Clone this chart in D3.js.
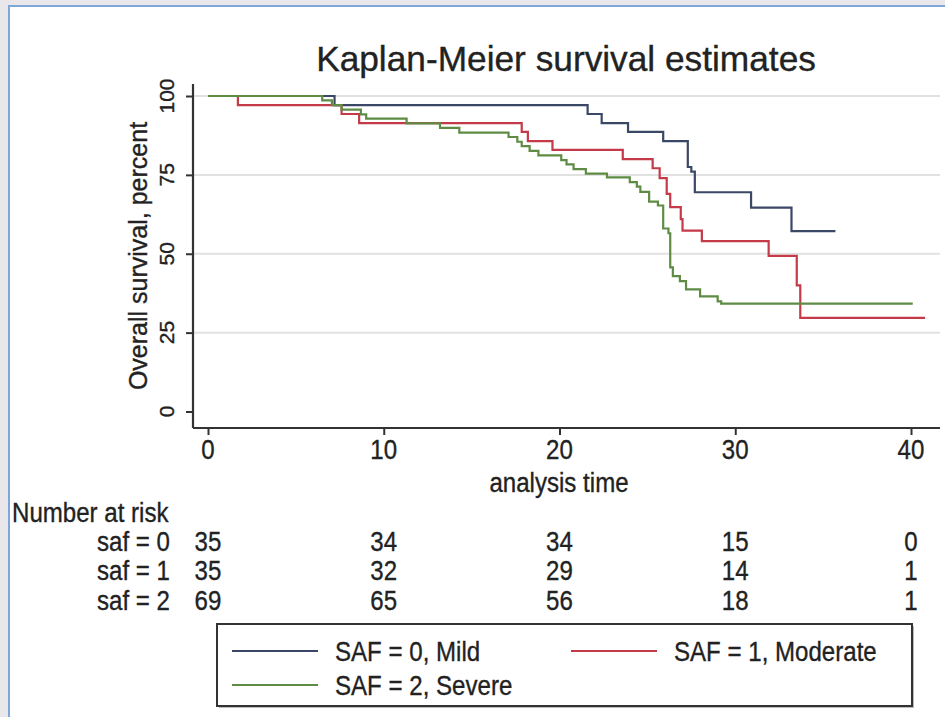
<!DOCTYPE html>
<html lang="en">
<head>
<meta charset="UTF-8">
<title>Kaplan-Meier survival estimates</title>
<style>
    body { margin: 0; background: #e9e7ea; }
    svg text { font-family: "Liberation Sans", Arial, sans-serif; fill: #222; stroke: #222; stroke-width: 0.35px; }
    .grid line { stroke: #e1e1e1; stroke-width: 2px; }
    .km { fill: none; stroke-width: 2.2px; }
</style>
</head>
<body>
<script src="https://d3js.org/d3.v7.min.js"></script>
<script>
// ---- data ----
const timeTicks = [0, 10, 20, 30, 40];
const survTicks = [0, 25, 50, 75, 100];
const legendNames = ["SAF = 0, Mild", "SAF = 1, Moderate", "SAF = 2, Severe"];
const riskNames = ["saf = 0", "saf = 1", "saf = 2"];
const riskMild = [35, 34, 34, 15, 0];
const riskModerate = [35, 32, 29, 14, 1];
const riskSevere = [69, 65, 56, 18, 1];

// [time, survival %] at each drop
const mildSteps = [[0, 100], [7.2, 97.1], [21.6, 94.3], [22.4, 91.4], [23.9, 88.6], [25.9, 85.7],
    [27.3, 77.5], [27.5, 76], [27.7, 69.5], [30.9, 64.6], [33.2, 57.2]];
const mildEnd = 35.7;
const moderateSteps = [[0, 100], [1.7, 97.1], [7.6, 94.3], [8.6, 91.4], [17.85, 88.6], [18.2, 85.7],
    [19.6, 82.9], [23.6, 80], [25.3, 77.1], [25.7, 74], [26.1, 69], [26.3, 64.8], [26.9, 61],
    [27.0, 57.3], [28.1, 54], [31.9, 49.3], [33.5, 40], [33.7, 29.7]];
const moderateEnd = 40.8;
const severeSteps = [[0, 100], [6.5, 98.6], [7.05, 97.1], [7.6, 95.7], [8.7, 94.2], [9.0, 92.8],
    [11.3, 91.3], [13.2, 89.9], [14.3, 88.4], [17.1, 87], [17.6, 85.5], [17.85, 84.1], [18.3, 82.6],
    [18.8, 81.2], [20.1, 79.7], [20.4, 78.3], [20.8, 76.8], [21.5, 75.4], [22.7, 74.2], [24.0, 72.7],
    [24.4, 71.3], [24.6, 69.6], [25.1, 66.5], [25.6, 65.3], [25.9, 58], [26.2, 56.5], [26.3, 45.7],
    [26.45, 42.9], [26.85, 41.3], [27.2, 38.7], [28.0, 36.5], [29.0, 34.9], [29.2, 34.2]];
const severeEnd = 40.1;

const colors = ["#3b4767", "#c43a48", "#5e8c45"];

const W = 945, H = 717;
const svg = d3.select("body").append("svg")
    .attr("width", W).attr("height", H);

// outer frame
svg.append("rect").attr("x", 9).attr("y", 6).attr("width", 1000).attr("height", 800)
    .attr("fill", "#fff").attr("stroke", "#7ea6d6").attr("stroke-width", 2);

const x = d3.scaleLinear().domain([0, 40]).range([208, 911]);
const y = d3.scaleLinear().domain([0, 100]).range([411.5, 96]);
const plotLeft = 193, plotRight = 940, plotBottom = 428, plotTop = 84;

// narrow text, like the squeezed Stata output
function label(g, px, py, s, size, anchor, sx) {
    return g.append("text")
        .attr("transform", `translate(${px},${py}) scale(${sx},1)`)
        .attr("text-anchor", anchor)
        .style("font-size", size + "px")
        .text(s);
}

// gridlines
svg.append("g").attr("class", "grid")
    .selectAll("line").data(survTicks.filter(d => d > 0)).enter().append("line")
    .attr("x1", plotLeft).attr("x2", plotRight)
    .attr("y1", d => y(d)).attr("y2", d => y(d));

// axes
const xAxis = svg.append("g").attr("transform", `translate(0,${plotBottom})`)
    .call(d3.axisBottom(x).tickValues(timeTicks).tickSize(7).tickFormat(""));
xAxis.select(".domain").attr("d", `M${plotLeft},0H${plotRight}`);
const yAxis = svg.append("g").attr("transform", `translate(${plotLeft},0)`)
    .call(d3.axisLeft(y).tickValues(survTicks).tickSize(7).tickFormat(""));
yAxis.select(".domain").attr("d", `M0,${plotTop}V${plotBottom}`);
svg.selectAll(".domain").attr("stroke", "#333").attr("stroke-width", 2.2);
svg.selectAll(".tick line").attr("stroke", "#333").attr("stroke-width", 2);

// tick labels
timeTicks.forEach(t => label(svg, x(t), 459, t, 28, "middle", 0.86));
survTicks.forEach(v => svg.append("text")
    .attr("transform", `translate(174,${y(v)}) rotate(-90)`)
    .attr("text-anchor", "middle").style("font-size", "21px").text(v));

// titles
label(svg, 566, 71, "Kaplan-Meier survival estimates", 36, "middle", 0.98);
label(svg, 559, 492, "analysis time", 28, "middle", 0.86);
svg.append("text")
    .attr("transform", "translate(147,256) rotate(-90)")
    .attr("text-anchor", "middle").style("font-size", "25px")
    .text("Overall survival, percent");

// survival curves
const line = d3.line().x(d => x(d[0])).y(d => y(d[1])).curve(d3.curveStepAfter);
const curves = [
    mildSteps.concat([[mildEnd, mildSteps[mildSteps.length - 1][1]]]),
    moderateSteps.concat([[moderateEnd, moderateSteps[moderateSteps.length - 1][1]]]),
    severeSteps.concat([[severeEnd, severeSteps[severeSteps.length - 1][1]]])
];
svg.selectAll(".km").data(curves).enter().append("path")
    .attr("class", "km")
    .attr("stroke", (d, i) => colors[i])
    .attr("d", line);

// number at risk table
label(svg, 12, 522, "Number at risk", 28, "start", 0.86);
const risk = [riskMild, riskModerate, riskSevere];
const rowY = [551, 580, 610];
risk.forEach((row, i) => {
    label(svg, 170, rowY[i], riskNames[i], 28, "end", 0.86);
    row.forEach((n, j) => label(svg, x(timeTicks[j]), rowY[i], n, 28, "middle", 0.86));
});

// legend
const legend = svg.append("g");
legend.append("rect").attr("x", 219).attr("y", 626).attr("width", 695).attr("height", 82)
    .attr("fill", "#bbb");
legend.append("rect").attr("x", 217).attr("y", 624).attr("width", 695).attr("height", 82)
    .attr("fill", "#fff").attr("stroke", "#333").attr("stroke-width", 2);
const legendPos = [[232, 651], [571, 651], [232, 685]];
legendNames.forEach((name, i) => {
    const [lx, ly] = legendPos[i];
    legend.append("line").attr("x1", lx).attr("x2", lx + 86).attr("y1", ly).attr("y2", ly)
        .attr("stroke", colors[i]).attr("stroke-width", 2.2);
    label(legend, lx + 103, ly + 10, name, 28, "start", 0.86);
});
</script>
</body>
</html>
